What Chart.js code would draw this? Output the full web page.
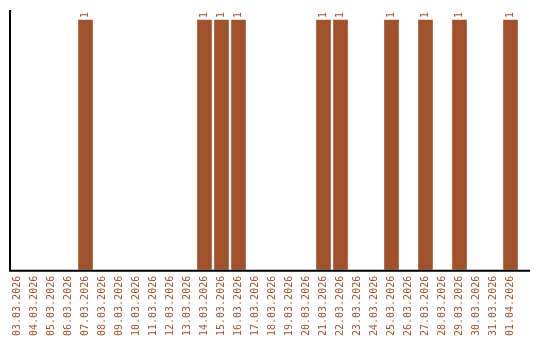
<!DOCTYPE html>
<html lang="ru">

<head>
    <meta charset="UTF-8">
    <title>Chart</title>
    <style>
        html, body { margin: 0; padding: 0; background: #fff; }
    </style>
</head>

<body>
    <canvas id="days-chart" width="540" height="340"></canvas>

    <script src="https://cdn.jsdelivr.net/npm/chart.js@4.4.1/dist/chart.umd.min.js"></script>

    <script>
        // подписи дней по оси X
        const days = [
            '03.03.2026', '04.03.2026', '05.03.2026', '06.03.2026', '07.03.2026',
            '08.03.2026', '09.03.2026', '10.03.2026', '11.03.2026', '12.03.2026',
            '13.03.2026', '14.03.2026', '15.03.2026', '16.03.2026', '17.03.2026',
            '18.03.2026', '19.03.2026', '20.03.2026', '21.03.2026', '22.03.2026',
            '23.03.2026', '24.03.2026', '25.03.2026', '26.03.2026', '27.03.2026',
            '28.03.2026', '29.03.2026', '30.03.2026', '31.03.2026', '01.04.2026'
        ];

        // число событий в каждый день
        const counts = [
            0, 0, 0, 0, 1,
            0, 0, 0, 0, 0,
            0, 1, 1, 1, 0,
            0, 0, 0, 1, 1,
            0, 0, 1, 0, 1,
            0, 1, 0, 0, 1
        ];

        const brown = '#a0522d';
        const mono = 'DejaVu Sans Mono';

        // оси рисуем сами: слева и снизу, нижняя линия чуть длиннее области графика
        const axisLines = {
            id: 'axisLines',
            afterDraw(chart) {
                const { ctx, chartArea } = chart;
                ctx.save();
                ctx.strokeStyle = '#000';
                ctx.lineWidth = 2;
                ctx.beginPath();
                ctx.moveTo(chartArea.left + 1, chartArea.top);
                ctx.lineTo(chartArea.left + 1, chartArea.bottom + 1);
                ctx.lineTo(chart.width - 10, chartArea.bottom + 1);
                ctx.stroke();
                ctx.restore();
            }
        };

        // подписи значений над столбцами, повернутые на 90°
        const valueLabels = {
            id: 'valueLabels',
            afterDatasetsDraw(chart) {
                const { ctx } = chart;
                const meta = chart.getDatasetMeta(0);
                ctx.save();
                ctx.fillStyle = brown;
                ctx.font = '10px "' + mono + '"';
                ctx.textAlign = 'left';
                ctx.textBaseline = 'middle';
                meta.data.forEach((bar, i) => {
                    if (!counts[i]) return;
                    ctx.save();
                    ctx.translate(bar.x, bar.y - 2);
                    ctx.rotate(-Math.PI / 2);
                    ctx.fillText(String(counts[i]), 0, 0);
                    ctx.restore();
                });
                ctx.restore();
            }
        };

        const ctx = document.getElementById('days-chart').getContext('2d');
        new Chart(ctx, {
            type: 'bar',
            data: {
                labels: days,
                datasets: [{
                    data: counts,
                    // пустые дни не рисуем совсем
                    backgroundColor: c => (c.raw ? brown : 'rgba(0,0,0,0)'),
                    barThickness: 14
                }]
            },
            options: {
                responsive: false,
                animation: false,
                layout: { padding: { top: 10, left: 9, right: 21, bottom: -2 } },
                plugins: {
                    legend: { display: false },
                    tooltip: { enabled: false }
                },
                scales: {
                    x: {
                        grid: { display: false, drawTicks: false },
                        border: { display: false },
                        ticks: {
                            color: brown,
                            font: { family: mono, size: 10 },
                            minRotation: 90,
                            maxRotation: 90,
                            autoSkip: false,
                            padding: 6
                        }
                    },
                    y: {
                        display: false,
                        min: 0,
                        max: 1.04
                    }
                }
            },
            plugins: [axisLines, valueLabels]
        });
    </script>
</body>

</html>
